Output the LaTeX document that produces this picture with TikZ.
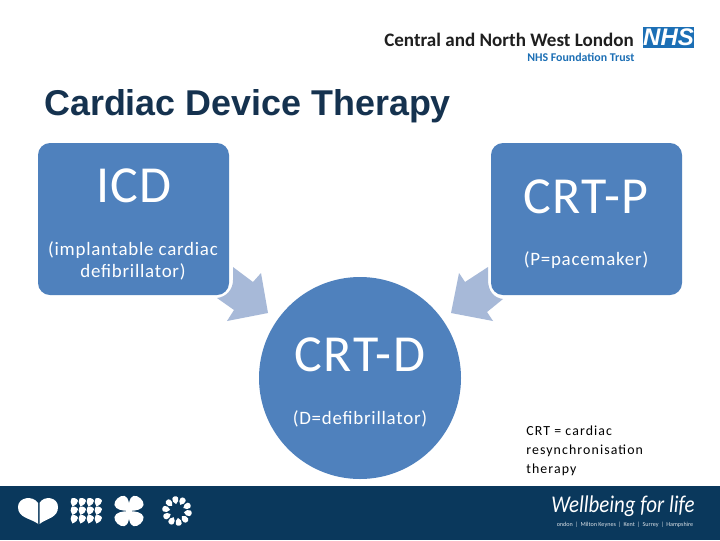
\documentclass[tikz,border=0pt]{standalone}
\usepackage{fontspec}
\setmainfont{Carlito}
\newfontfamily\arialf{Liberation Sans}
\newfontfamily\bigf[LetterSpace=3]{Carlito}
\newfontfamily\smallf[LetterSpace=4]{Carlito}
\newfontfamily\notef[LetterSpace=8]{Carlito}
\definecolor{boxblue}{HTML}{4F81BD}
\definecolor{arrowblue}{HTML}{A7B9D8}
\definecolor{footer}{HTML}{0A385C}
\definecolor{titlecol}{HTML}{15324F}
\definecolor{nhsblue}{HTML}{1C6FB5}
\newcommand{\fs}[1]{\fontsize{#1}{#1}\selectfont}
\newcommand{\dropshape}[4]{% x, y, angle, scale
  \fill[white,shift={(#1,#2)},rotate=#3,scale=#4] (0,0) .. controls (-0.35,-0.35) and (-0.6,-0.65) .. (-0.45,-0.95) .. controls (-0.3,-1.2) and (0.3,-1.2) .. (0.45,-0.95) .. controls (0.6,-0.65) and (0.35,-0.35) .. (0,0) -- cycle;}
\tikzset{
  panel/.style={fill=boxblue,draw=none,rounded corners=9pt,minimum width=143.25pt,minimum height=114pt,inner sep=0pt},
  disc/.style={circle,fill=boxblue,draw=none,minimum size=151.5pt,inner sep=0pt},
  bigtext/.style={text=white,inner sep=0pt,font=\bigf\fs{39}},
  smalltext/.style={text=white,inner sep=0pt,align=center,font=\smallf\fs{14.2},execute at begin node={\baselineskip=17pt}},
  notetext/.style={text=black,inner sep=0pt,anchor=base west,font=\notef\fs{10.4}},
  blockarrow/.style={fill=arrowblue,draw=none},
}
\begin{document}
\begin{tikzpicture}[x=0.75pt,y=-0.75pt]
\useasboundingbox (0,0) rectangle (720,540);
\fill[white] (0,0) rectangle (720,540);
% logo
\node[anchor=base west,inner sep=0pt,text=black!88] (logotext) at (384,46) {\fs{14.3}\textbf{Central and North West London}};
\node[anchor=base west,inner sep=0pt,text=nhsblue] (logosub) at (527,61) {\fs{8.9}\textbf{NHS Foundation Trust}};
\fill[nhsblue] (643,27) rectangle (694,48);
\node[inner sep=0pt,text=white] (nhs) at (668.5,37.5) {\arialf\fs{18}\bfseries\itshape NHS};
% title
\node[anchor=base west,inner sep=0pt,text=titlecol] (title) at (44,115.5) {\arialf\fs{26.9}\bfseries Cardiac Device Therapy};
% block arrows
\fill[blockarrow] (233,267) -- (253,282) -- (261,273) -- (268,313) -- (227,321) -- (234,310) -- (217,298) .. controls (226,297) and (233,290) .. (233,280) -- cycle;
\fill[blockarrow] (488,267) -- (465,282) -- (459,273) -- (451,313) -- (493,321) -- (487,312) -- (503,299) .. controls (494,298) and (488,291) .. (488,280) -- cycle;
% shapes
\node[panel] (icd) at (133.5,219) {};
\node[panel] (crtp) at (586.5,219) {};
\node[disc] (crtd) at (360,378) {};
% labels
\node[bigtext] (icdt) at (134,186) {ICD};
\node[smalltext] (icds) at (133,261) {(implantable cardiac\\defibrillator)};
\node[bigtext] (crtpt) at (586,197) {CRT-P};
\node[smalltext] (crtps) at (586,260.5) {(P=pacemaker)};
\node[bigtext] (crtdt) at (360,355) {CRT-D};
\node[smalltext] (crtds) at (360,419) {(D=defibrillator)};
\node[notetext] (n1) at (526,435) {CRT = cardiac};
\node[notetext] (n2) at (526,454) {resynchronisation};
\node[notetext] (n3) at (526,473) {therapy};
% footer
\fill[footer] (0,486) rectangle (720,540);
% heart
\fill[white] (38.5,524) .. controls (30,518) and (18,518) .. (18,507) .. controls (18,497) and (33,495) .. (38,503) -- (38,524) -- cycle;
\fill[white] (39.5,524) .. controls (47,518) and (58,518) .. (58,507) .. controls (58,497) and (44,495) .. (39.5,503) -- cycle;
% grid of drops
\foreach \yy in {506.5,515,523.5}{
  \foreach \xx in {72.5,80.5,88.5,96.5}{
    \dropshape{\xx}{\yy}{-18}{7.6}
  }
}
% four petals
\dropshape{129}{511}{42}{15}
\dropshape{129}{511}{-42}{15}
\dropshape{129}{511}{138}{15}
\dropshape{129}{511}{-138}{15}
% ring of drops
\foreach \a in {8,44,...,332}{
  \begin{scope}[shift={(177,511)},rotate=\a]
    \fill[white] (0,-7) .. controls (-2.4,-8.5) and (-3.6,-11) .. (-2.9,-13) .. controls (-2,-15.5) and (2,-15.5) .. (2.9,-13) .. controls (3.6,-11) and (2.4,-8.5) .. (0,-7) -- cycle;
  \end{scope}
}
% strapline
\node[anchor=base,inner sep=0pt,text=white,xscale=0.87,transform shape] (well) at (623,512) {\fs{18}\itshape Wellbeing for life};
\node[anchor=base,inner sep=0pt,text=white!85!footer] (places) at (625,526) {\fs{4.6}ondon \,|\, Milton Keynes \,|\, Kent \,|\, Surrey \,|\, Hampshire};
\end{tikzpicture}
\end{document}
